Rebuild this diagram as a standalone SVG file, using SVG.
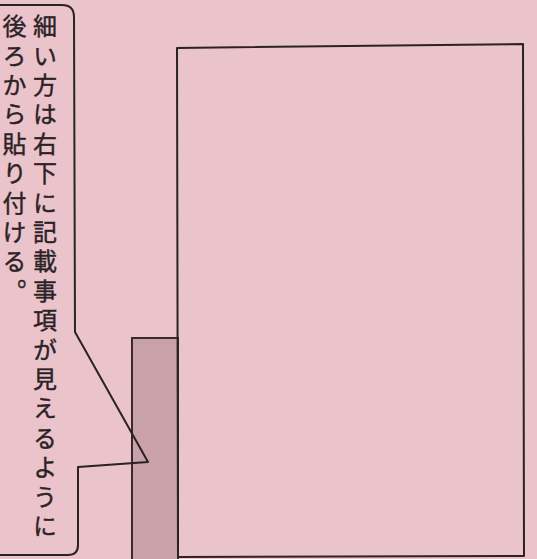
<svg xmlns="http://www.w3.org/2000/svg" width="537" height="559" viewBox="0 0 537 559">
<style>
.ln{fill:none;stroke:#2b2226;stroke-width:2;stroke-linejoin:round}
.tx{font-family:"Noto Sans CJK JP","Noto Sans CJK SC",sans-serif;font-size:24px;font-weight:400;fill:#2b2226;stroke:#2b2226;stroke-width:0.4;writing-mode:vertical-rl;letter-spacing:5.4px}
</style>
<rect width="537" height="559" fill="#ebc3cb"/>
<g id="strip">
<rect x="132" y="338" width="46" height="225" fill="#c9a1a9" stroke="#3a2a2e" stroke-width="2"/>
</g>
<g id="sheet">
<path class="ln" d="M177,48 L523,44 L524,556 L178,557 Z" fill="#ebc3cb"/>
</g>
<g id="callout">
<path class="ln" d="M-5,5 L62,5 Q74,5 74,17 L75,332 L148,462 L78,467 L78,545 Q78,555 68,555 L-5,555" fill="#ebc3cb"/>
<text class="tx" x="45" y="14">細い方は右下に記載事項が見えるように</text>
<text class="tx" x="14.5" y="14">後ろから貼り付ける。</text>
</g>
<g id="connectors"></g>
</svg>
